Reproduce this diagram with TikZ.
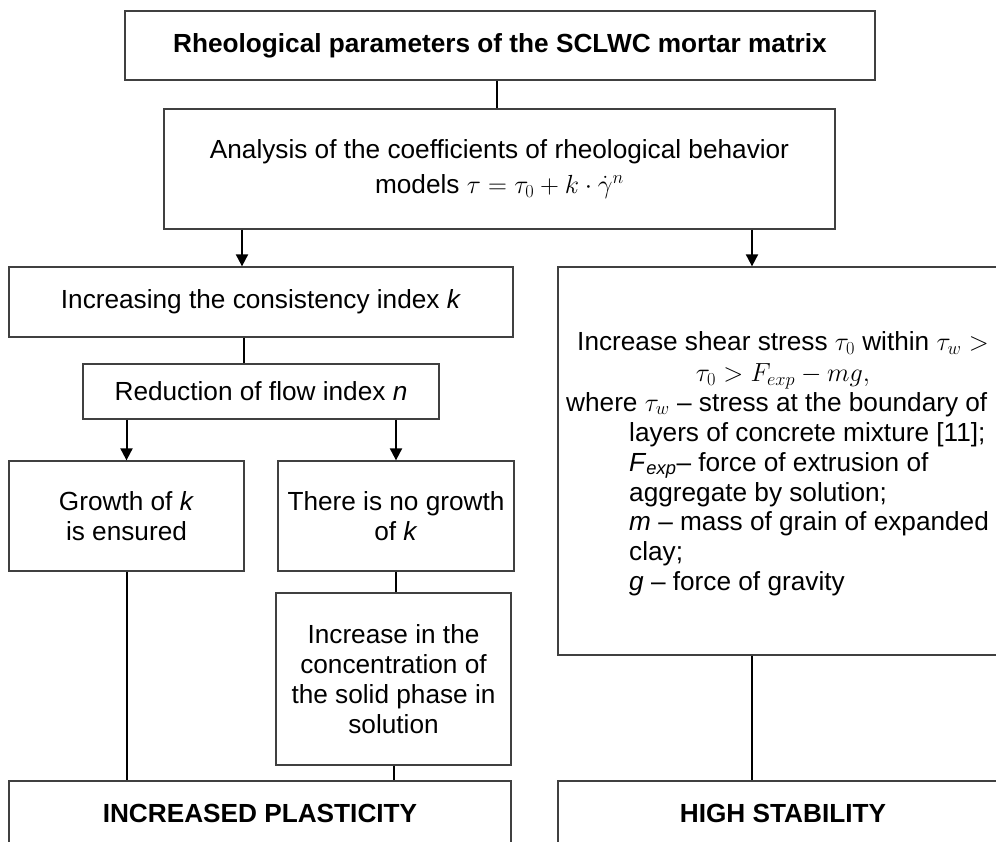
\RequirePackage{fix-cm}
\documentclass[tikz,border=0pt]{standalone}
\usepackage{fontspec}
\setmainfont{Liberation Sans}
\usetikzlibrary{arrows.meta}
\newcommand\myfs{\fontsize{26.2}{30}\selectfont}
\begin{document}
\begin{tikzpicture}[x=1pt,y=-1pt,
  box/.style={draw=black!75, line width=1.3pt, inner sep=0pt, align=center, font=\myfs},
  txt/.style={inner sep=0pt, font=\myfs},
  conn/.style={line width=2pt, black},
  arr/.style={conn, -{Triangle[length=12pt,width=12pt]}}]
\useasboundingbox (0,0) rectangle (996,841);
\clip (0,0) rectangle (996,841);
% boxes
\node[box, font=\myfs\bfseries, minimum width=750pt, minimum height=69pt] (top) at (500,45.5) {Rheological parameters of the SCLWC mortar matrix};
\node[box, minimum width=671pt, minimum height=120pt] (ana) at (499.5,169) {Analysis of the coefficients of rheological behavior\\[5pt] models $\tau = \tau_0 + k\cdot\dot{\gamma}^{n}$};
\node[box, minimum width=504pt, minimum height=70pt] (inc) at (261,302) {Increasing the consistency index \textit{k}};
\node[box, minimum width=356pt, minimum height=55pt] (red) at (261,391.5) {Reduction of flow index \textit{n}};
\node[box, minimum width=235pt, minimum height=110pt] (gro) at (126.5,516) {Growth of \textit{k}\\ is ensured};
\node[box, minimum width=236pt, minimum height=110pt] (nog) at (396,516) {There is no growth\\ of \textit{k}};
\node[box, minimum width=235pt, minimum height=172pt] (con) at (393.5,679) {Increase in the\\ concentration of\\ the solid phase in\\ solution};
\node[box, font=\myfs\bfseries, minimum width=502pt, minimum height=64pt] (pla) at (260,813) {INCREASED PLASTICITY};
\node[box, minimum width=450pt, minimum height=388pt] (rb) at (783,461) {};
\node[box, font=\myfs\bfseries, minimum width=450pt, minimum height=64pt] (hs) at (783,813) {HIGH STABILITY};
% right box text
\node[txt, align=center, anchor=north] (r1) at (783,331) {Increase shear stress $\tau_0$ within $\tau_w >$\\[1pt] $\tau_0 > F_{exp} - mg,$};
\node[txt, anchor=base west] (r3) at (566,411) {where $\tau_w$ -- stress at the boundary of};
\node[txt, anchor=base west] (r4) at (629,441) {layers of concrete mixture [11];};
\node[txt, anchor=base west] (r5) at (629,471) {\textit{F}\textsubscript{\textit{exp}}-- force of extrusion of};
\node[txt, anchor=base west] (r6) at (629,501) {aggregate by solution;};
\node[txt, anchor=base west] (r7) at (629,530) {\textit{m} -- mass of grain of expanded};
\node[txt, anchor=base west] (r8) at (629,560) {clay;};
\node[txt, anchor=base west] (r9) at (629,590) {\textit{g} -- force of gravity};
% connector x positions
\coordinate (xT) at (497,0);
\coordinate (xL) at (242,0);
\coordinate (xR) at (752,0);
\coordinate (xM) at (244,0);
% connectors
\draw[conn] (top.south -| xT) -- (ana.north -| xT);
\draw[arr] (ana.south -| xL) -- (inc.north -| xL);
\draw[arr] (ana.south -| xR) -- (rb.north -| xR);
\draw[conn] (inc.south -| xM) -- (red.north -| xM);
\draw[arr] (red.south -| gro.north) -- (gro.north);
\draw[arr] (red.south -| nog.north) -- (nog.north);
\draw[conn] (nog.south) -- (nog.south |- con.north);
\draw[conn] (gro.south) -- (gro.south |- pla.north);
\draw[conn] (con.south) -- (con.south |- pla.north);
\draw[conn] (rb.south -| xR) -- (hs.north -| xR);
\end{tikzpicture}
\end{document}
